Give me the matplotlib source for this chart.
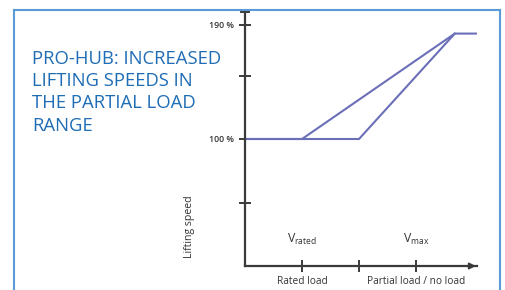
import matplotlib
matplotlib.use("Agg")
import matplotlib.pyplot as plt
from matplotlib.lines import Line2D

# Data
x_fast = [0, 1, 3.68, 4.05]
y_fast = [100, 100, 183, 183]
x_slow = [0, 2, 3.68]
y_slow = [100, 100, 183]
y_ticks = [50, 100, 150, 190]
y_tick_labels = ["", "100 %", "", "190 %"]
x_ticks = [1, 2, 3]
x_labels = [(1, "Rated load"), (3, "Partial load / no load")]
v_labels = [(1, r"$\mathregular{V_{rated}}$"), (3, r"$\mathregular{V_{max}}$")]
title_lines = "PRO-HUB: INCREASED\nLIFTING SPEEDS IN\nTHE PARTIAL LOAD\nRANGE"

W, H = 506, 290
fig = plt.figure(figsize=(W / 100, H / 100), dpi=100)
fig.patch.set_facecolor("white")

# border frame (top, left, right)
bc = "#5b9bd5"
fig.add_artist(Line2D([14 / W, 500 / W], [1 - 10 / H, 1 - 10 / H], color=bc, lw=1.5))
fig.add_artist(Line2D([14 / W, 14 / W], [1 - 10 / H, 0], color=bc, lw=1.5))
fig.add_artist(Line2D([500 / W, 500 / W], [1 - 10 / H, 0], color=bc, lw=1.5))

ax = fig.add_axes([245 / W, 24 / H, 232 / W, 254 / H])
ax.set_xlim(0, 4.07)
ax.set_ylim(0, 200)
for s in ["top", "right"]:
    ax.spines[s].set_visible(False)
axc = "#3a3a3a"
for s in ["left", "bottom"]:
    ax.spines[s].set_color(axc)
    ax.spines[s].set_linewidth(1.6)
ax.patch.set_alpha(0)

lc = "#6b6fb8"
ax.plot(x_fast, y_fast, color=lc, lw=1.5, solid_joinstyle="miter", clip_on=False)
ax.plot(x_slow, y_slow, color=lc, lw=1.5, solid_joinstyle="miter", clip_on=False)

ax.set_yticks(y_ticks)
ax.set_yticklabels(y_tick_labels, fontsize=6.3, color="#333333", family="Open Sans",
                   fontweight="semibold")
ax.set_xticks(x_ticks)
ax.set_xticklabels([])
ax.tick_params(axis="both", direction="inout", length=8, width=1.4, color=axc, pad=4)

# top cap
ax.plot([-0.07, 0.07], [200, 200], color=axc, lw=1.4, clip_on=False)
# x arrow
ax.annotate("", xy=(4.1, 0), xytext=(3.9, 0),
            arrowprops=dict(arrowstyle="-|>", color=axc, lw=1.4, mutation_scale=9),
            annotation_clip=False)

for xv, t in x_labels:
    ax.text(xv, -12, t, ha="center", va="center", fontsize=7.3, color="#333333",
            family="Open Sans", fontweight="medium")
for xv, t in v_labels:
    ax.text(xv, 21, t, ha="center", va="center", fontsize=8.8, color="#333333",
            family="Open Sans")

fig.text(190 / W, 1 - 227 / H, "Lifting speed", rotation=90, ha="center", va="center",
         fontsize=7.6, color="#333333", family="Open Sans", fontweight="medium")

fig.text(32 / W, 1 - 50 / H, title_lines, ha="left", va="top", fontsize=13.3,
         color="#1f6db5", family="Open Sans", linespacing=1.3)

fig.savefig("out.png", dpi=100)
